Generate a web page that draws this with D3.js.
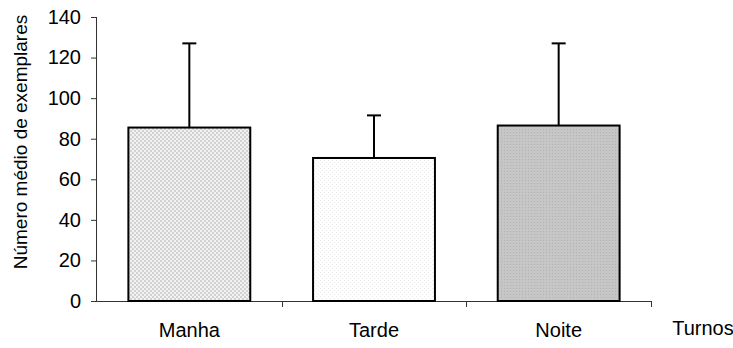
<!DOCTYPE html>
<html>
<head>
<meta charset="utf-8">
<script src="https://cdn.jsdelivr.net/npm/d3@7"></script>
<style>
  html, body { margin: 0; padding: 0; background: #fff; }
  svg { display: block; font-family: "Liberation Sans", Arial, sans-serif; }
</style>
</head>
<body>
<svg id="chart" width="733" height="348"></svg>
<script>
// Mean number of specimens per period of the day, with standard deviation
const turnos = ["Manha", "Tarde", "Noite"];
const medias = [85.5, 70.5, 86.5];
const desvios = [41.5, 21, 40.5];
const yTicks = [0, 20, 40, 60, 80, 100, 120, 140];
const eixoY = "Número médio de exemplares";
const eixoX = "Turnos";

const svg = d3.select("#chart");
const plotLeft = 97, plotRight = 651, plotTop = 17, plotBottom = 301;

const x = d3.scaleBand().domain(turnos).range([plotLeft, plotRight]).padding(0);
const y = d3.scaleLinear().domain([0, 140]).range([plotBottom, plotTop]);

// Fill textures for each bar
const defs = svg.append("defs");
const p1 = defs.append("pattern").attr("id", "fill-manha")
  .attr("width", 4).attr("height", 4).attr("patternUnits", "userSpaceOnUse");
p1.append("rect").attr("width", 4).attr("height", 4).attr("fill", "#f2f2f2");
p1.append("rect").attr("width", 2).attr("height", 2).attr("fill", "#d2d2d2");
p1.append("rect").attr("x", 2).attr("y", 2).attr("width", 2).attr("height", 2).attr("fill", "#d2d2d2");

const p2 = defs.append("pattern").attr("id", "fill-tarde")
  .attr("width", 4).attr("height", 4).attr("patternUnits", "userSpaceOnUse");
p2.append("rect").attr("width", 4).attr("height", 4).attr("fill", "#ffffff");
p2.append("rect").attr("width", 1).attr("height", 1).attr("fill", "#ebebeb");
p2.append("rect").attr("x", 2).attr("y", 2).attr("width", 1).attr("height", 1).attr("fill", "#ebebeb");

const p3 = defs.append("pattern").attr("id", "fill-noite")
  .attr("width", 3).attr("height", 3).attr("patternUnits", "userSpaceOnUse");
p3.append("rect").attr("width", 3).attr("height", 3).attr("fill", "#c6c6c6");
p3.append("rect").attr("width", 1).attr("height", 1).attr("fill", "#b2b2b2");

const fills = ["url(#fill-manha)", "url(#fill-tarde)", "url(#fill-noite)"];
const barW = x.bandwidth() * 0.66;

// Y axis
const gy = svg.append("g").attr("transform", `translate(${plotLeft},0)`)
  .call(d3.axisLeft(y).tickValues(yTicks).tickSize(6).tickPadding(10));
gy.select(".domain").attr("stroke", "#333").attr("d", `M-0.5,${plotTop}V${plotBottom}`);
gy.selectAll(".tick line").attr("stroke", "#333");
gy.selectAll(".tick text").attr("font-size", 20).attr("fill", "#000")
  .attr("font-family", "Liberation Sans, Arial, sans-serif");

// X axis with ticks at category boundaries
const gx = svg.append("g");
gx.append("line").attr("x1", plotLeft - 6).attr("x2", plotRight)
  .attr("y1", plotBottom + 0.5).attr("y2", plotBottom + 0.5).attr("stroke", "#333");
const bounds = turnos.map(d => x(d)).concat([x(turnos[turnos.length - 1]) + x.bandwidth()]);
gx.selectAll("line.tk").data(bounds.slice(1)).join("line").attr("class", "tk")
  .attr("x1", d => Math.round(d) + 0.5).attr("x2", d => Math.round(d) + 0.5)
  .attr("y1", plotBottom).attr("y2", plotBottom + 6).attr("stroke", "#333");
gx.selectAll("text.cat").data(turnos).join("text").attr("class", "cat")
  .attr("x", d => x(d) + x.bandwidth() / 2).attr("y", 337)
  .attr("text-anchor", "middle").attr("font-size", 20).text(d => d);

// Bars
svg.append("g").selectAll("rect").data(turnos).join("rect")
  .attr("x", d => x(d) + (x.bandwidth() - barW) / 2)
  .attr("y", (d, i) => y(medias[i]))
  .attr("width", barW)
  .attr("height", (d, i) => y(0) - y(medias[i]))
  .attr("fill", (d, i) => fills[i])
  .attr("stroke", "#000").attr("stroke-width", 2);

// Upper error bars
const err = svg.append("g").attr("stroke", "#000").attr("stroke-width", 2);
turnos.forEach((d, i) => {
  const cx = x(d) + x.bandwidth() / 2;
  err.append("line").attr("x1", cx).attr("x2", cx)
    .attr("y1", y(medias[i])).attr("y2", y(medias[i] + desvios[i]));
  err.append("line").attr("x1", cx - 7).attr("x2", cx + 7)
    .attr("y1", y(medias[i] + desvios[i])).attr("y2", y(medias[i] + desvios[i]));
});

// Axis titles
svg.append("text").attr("transform", "translate(27,142) rotate(-90)")
  .attr("text-anchor", "middle").attr("font-size", 19).text(eixoY);
svg.append("text").attr("x", 703).attr("y", 335)
  .attr("text-anchor", "middle").attr("font-size", 20).text(eixoX);
</script>
</body>
</html>
